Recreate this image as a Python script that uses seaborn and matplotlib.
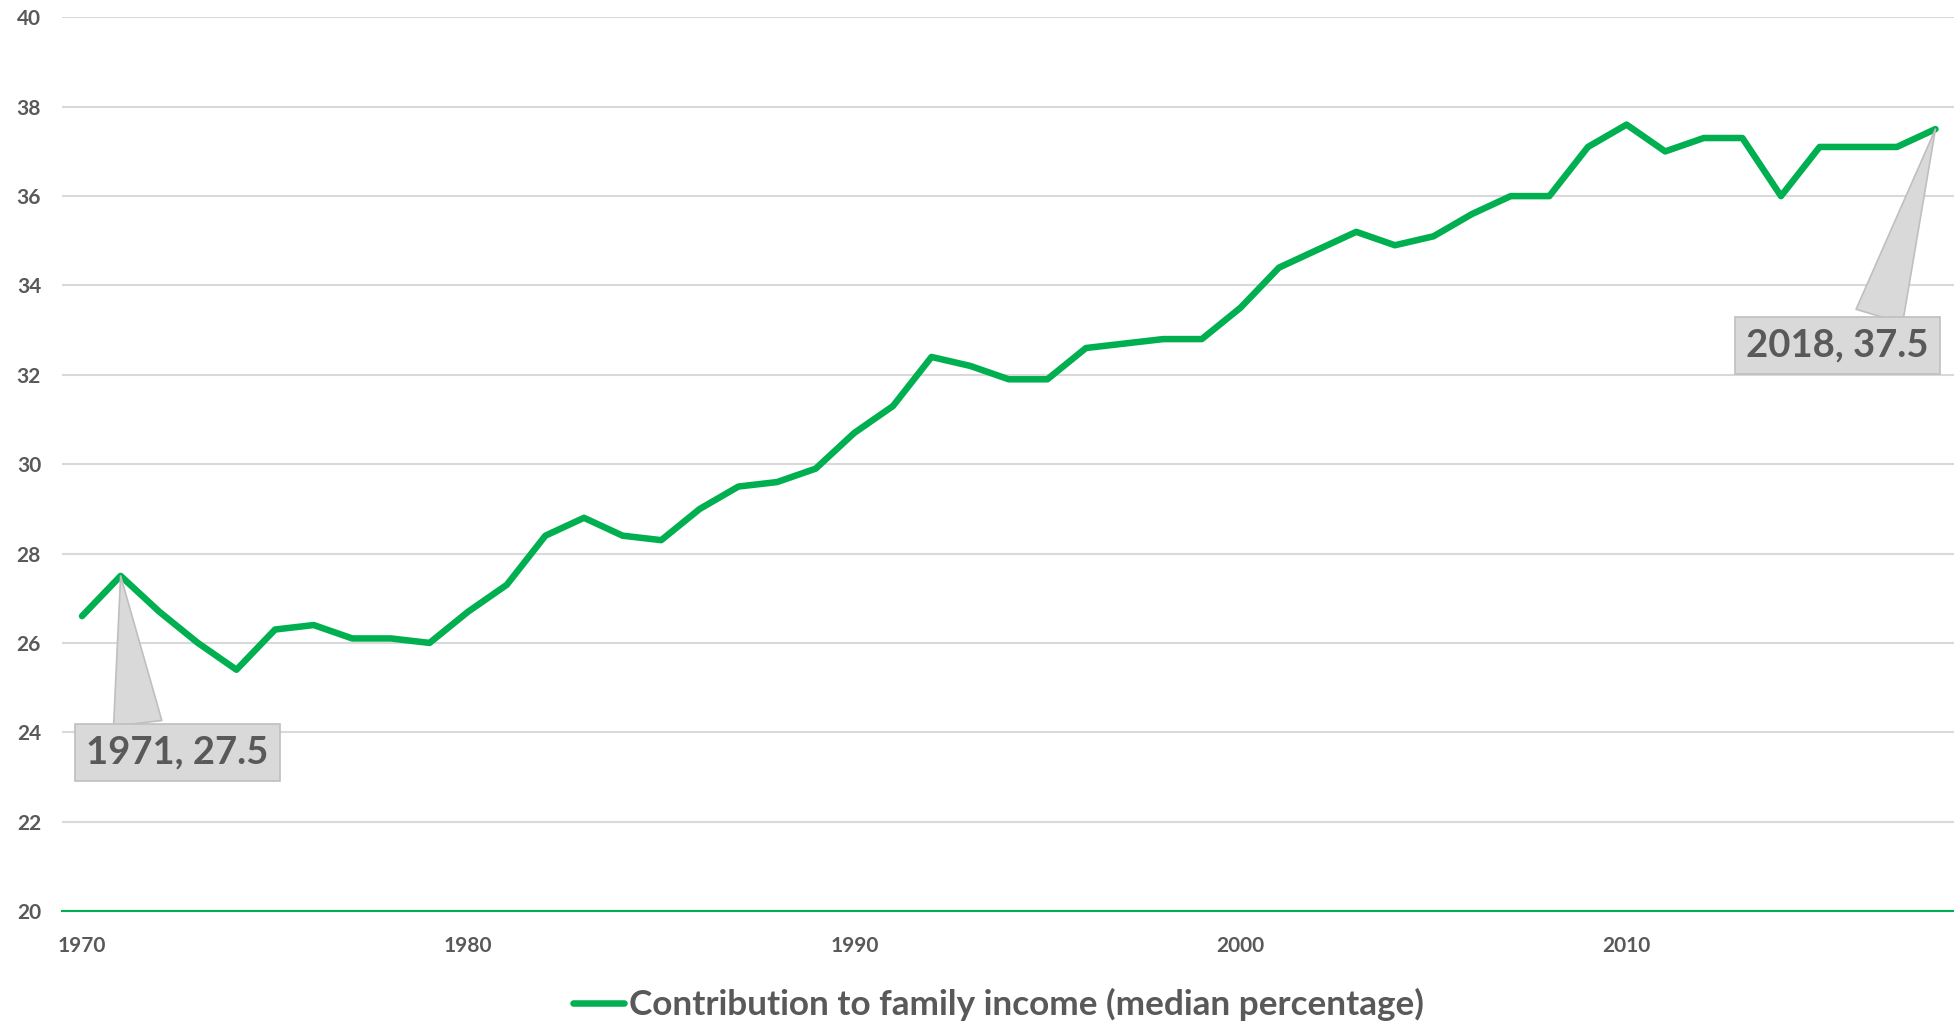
import numpy as np
import pandas as pd
import matplotlib
matplotlib.use("Agg")
import matplotlib.pyplot as plt
import seaborn as sns

# data
years = list(range(1970, 2019))
contribution = [
    26.6, 27.5, 26.7, 26.0, 25.4, 26.3, 26.4, 26.1, 26.1, 26.0,
    26.7, 27.3, 28.4, 28.8, 28.4, 28.3, 29.0, 29.5, 29.6, 29.9,
    30.7, 31.3, 32.4, 32.2, 31.9, 31.9, 32.6, 32.7, 32.8, 32.8,
    33.5, 34.4, 34.8, 35.2, 34.9, 35.1, 35.6, 36.0, 36.0, 37.1,
    37.6, 37.0, 37.3, 37.3, 36.0, 37.1, 37.1, 37.1, 37.5,
]
series_name = "Contribution to family income (median percentage)"
x_ticks = [1970, 1980, 1990, 2000, 2010]
y_ticks = [20, 22, 24, 26, 28, 30, 32, 34, 36, 38, 40]
callout_years = [1971, 2018]

df = pd.DataFrame({"year": years, "value": contribution})

green = "#00B050"
grey_text = "#595959"
grid_col = "#D9D9D9"

sns.set_theme(style="white")
plt.rcParams["font.family"] = ["Lato", "DejaVu Sans"]

fig = plt.figure(figsize=(19.54, 10.22), dpi=100)
ax = fig.add_axes([0.0317, 0.1086, 0.9683, 0.8744])

sns.lineplot(data=df, x="year", y="value", color=green, linewidth=4.7,
             label=series_name, ax=ax, legend=False)

ax.set_xlim(1969.48, 2018.48)
ax.set_ylim(20, 40)
ax.set_xticks(x_ticks)
ax.set_yticks(y_ticks)
ax.set_xlabel("")
ax.set_ylabel("")

for t in y_ticks[1:]:
    ax.axhline(t, color=grid_col, linewidth=1.5, zorder=0)

for side in ["top", "right", "left"]:
    ax.spines[side].set_visible(False)
ax.spines["bottom"].set_color(green)
ax.spines["bottom"].set_linewidth(1.5)

ax.tick_params(axis="both", length=0, labelsize=15, labelcolor=grey_text)
ax.tick_params(axis="x", pad=18)
ax.tick_params(axis="y", pad=15)
for lab in ax.get_xticklabels() + ax.get_yticklabels():
    lab.set_fontweight("bold")

# callouts
text_pos = {1971: (1972.47, 23.55), 2018: (2015.46, 32.66)}
rel = {1971: (0.29, 1.0), 2018: (0.71, 1.0)}
for yr in callout_years:
    val = contribution[years.index(yr)]
    ax.annotate(f"{yr}, {val}", xy=(yr, val), xytext=text_pos[yr],
                ha="center", va="center", fontsize=27.5, fontweight="bold",
                color=grey_text,
                bbox=dict(boxstyle="square,pad=0.3", fc="#D9D9D9", ec="#BFBFBF", lw=1.2),
                arrowprops=dict(arrowstyle="wedge,tail_width=3.5", mutation_scale=10,
                                fc="#D9D9D9", ec="#BFBFBF", lw=1.2,
                                relpos=rel[yr], shrinkA=0, shrinkB=0),
                zorder=5)

handle = plt.Line2D([], [], color=green, linewidth=4.7, solid_capstyle="round")
leg = fig.legend([handle], [series_name], loc="center", bbox_to_anchor=(0.511, 0.017),
                 frameon=False, fontsize=25.3, handlelength=1.45, handletextpad=0.12)
for txt in leg.get_texts():
    txt.set_color(grey_text)
    txt.set_fontweight("bold")

fig.savefig("out.png", dpi=100)
